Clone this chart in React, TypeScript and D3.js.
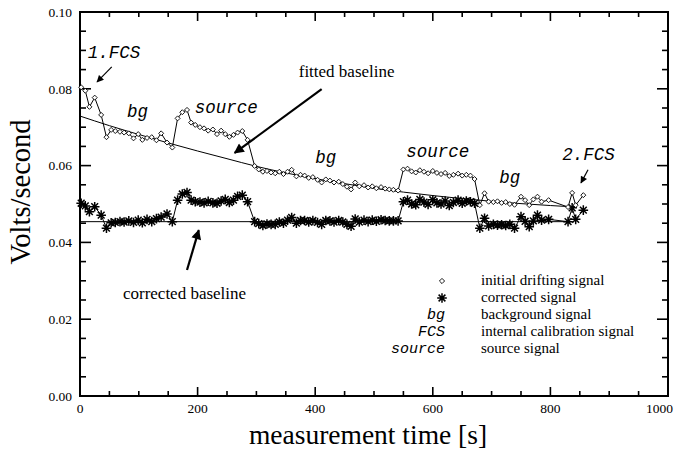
import React from "react";
import * as d3 from "d3";

// ---------- data ----------
const sampleTimes = [
  2, 9, 16, 25, 36, 45,
  53, 60, 68, 75, 83, 91, 99, 106, 114, 122, 130, 138, 148, 157,
  166, 174, 182, 189, 196, 204, 211, 218, 226, 233, 240, 247, 254, 261, 268, 276, 285,
  297, 304, 311, 318, 325, 332, 339, 346, 353, 360, 368, 375, 382, 389, 396, 404, 411, 418, 425, 432, 440, 447, 454, 461, 468, 475, 483, 490, 497, 504, 512, 519, 526, 533, 541,
  550, 557, 564, 571, 578, 585, 592, 600, 607, 614, 621, 628, 635, 643, 650, 657, 664, 671,
  680, 688, 695, 703, 710, 717, 724, 731, 739, 750, 757, 764, 771, 778, 785, 797,
  830, 837, 843, 856,
];

const driftingSignal = [
  0.0804, 0.0795, 0.0753, 0.0777, 0.0732, 0.0674,
  0.0693, 0.069, 0.0688, 0.0686, 0.0684, 0.0671, 0.0682, 0.0667, 0.0672, 0.0674, 0.0666, 0.0684, 0.066, 0.0647,
  0.0723, 0.0739, 0.0745, 0.0712, 0.0706, 0.07, 0.0697, 0.0691, 0.0694, 0.0682, 0.0691, 0.0682, 0.0675, 0.068, 0.0686, 0.069, 0.0667,
  0.0599, 0.059, 0.0584, 0.0586, 0.0582, 0.058, 0.0584, 0.0578, 0.0584, 0.0589, 0.0572, 0.0576, 0.0574, 0.0568, 0.057, 0.0563, 0.0556, 0.0564, 0.0561, 0.0556, 0.0558, 0.0552, 0.0545, 0.0538, 0.0556, 0.0546, 0.0549, 0.0543, 0.0546, 0.0541, 0.0544, 0.054, 0.0538, 0.0537, 0.0535,
  0.059, 0.0592, 0.0585, 0.0582, 0.0588, 0.0584, 0.058, 0.0586, 0.0581, 0.0578, 0.0581, 0.0573, 0.0576, 0.0579, 0.0574, 0.0576, 0.0574, 0.0565,
  0.0497, 0.0528, 0.0506, 0.0505, 0.0507, 0.0503, 0.0505, 0.05, 0.0498, 0.0519, 0.051, 0.0497, 0.0512, 0.0519, 0.0506, 0.051,
  0.0492, 0.0529, 0.0497, 0.0523,
];

const correctedSignal = [
  0.0502, 0.0495, 0.048, 0.0493, 0.0471, 0.0437,
  0.0451, 0.0452, 0.0454, 0.0453, 0.0456, 0.0452, 0.0458, 0.0451, 0.046, 0.0454, 0.0462, 0.0466, 0.0474, 0.0454,
  0.051, 0.0526, 0.053, 0.051, 0.0506, 0.0505, 0.0503, 0.0507, 0.0503, 0.0502, 0.0508, 0.0512, 0.0504, 0.051, 0.052, 0.0523, 0.0506,
  0.0454, 0.0449, 0.0444, 0.0448, 0.0447, 0.0447, 0.0453, 0.045, 0.0458, 0.0465, 0.045, 0.0457, 0.0457, 0.0453, 0.0457, 0.0452, 0.0447, 0.0457, 0.0456, 0.0453, 0.0457, 0.0453, 0.0447, 0.0442, 0.0461, 0.0453, 0.0458, 0.0454, 0.0458, 0.0455, 0.0459, 0.0457, 0.0456, 0.0456, 0.0456,
  0.0506, 0.051, 0.05, 0.0498, 0.0512, 0.0505, 0.0499, 0.0511, 0.0503, 0.05, 0.0508, 0.0496, 0.0504, 0.051, 0.0502, 0.0508, 0.0506, 0.0502,
  0.0437, 0.0463, 0.0443, 0.0447, 0.0445, 0.0446, 0.0444, 0.0447, 0.0437, 0.0467, 0.0455, 0.0441, 0.0456, 0.0471, 0.0458, 0.046,
  0.0454, 0.049, 0.046, 0.0484,
];

const fittedTimes = [0, 50, 100, 150, 200, 250, 300, 350, 400, 450, 500, 550, 600, 650, 700, 750, 800, 845];
const fittedValues = [0.0729, 0.0704, 0.0681, 0.0659, 0.0638, 0.0618, 0.0598, 0.0581, 0.0566, 0.0553, 0.0541, 0.0531, 0.0522, 0.0514, 0.0507, 0.0501, 0.0496, 0.0492];

const correctedBaselineTimes = [0, 835];
const correctedBaselineValue = 0.0454;

const yTickValues = [0, 0.02, 0.04, 0.06, 0.08, 0.1];
const xTickValues = [0, 200, 400, 600, 800, 1000];

const legendSymbols = ["diamond", "asterisk", "bg", "FCS", "source"];
const legendLabels = [
  "initial drifting signal",
  "corrected signal",
  "background signal",
  "internal calibration signal",
  "source signal",
];

// ---------- layout ----------
const W = 675;
const H = 450;
const M = { left: 80, right: 668, top: 12, bottom: 396 };
const SERIF = "'Liberation Serif', 'Times New Roman', serif";
const MONO = "'Liberation Mono', 'Courier New', monospace";

const x = d3.scaleLinear().domain([0, 1000]).range([M.left, M.right]);
const y = d3.scaleLinear().domain([0, 0.1]).range([M.bottom, M.top]);

function asteriskPath(cx: number, cy: number, r: number) {
  const d = r * Math.SQRT1_2;
  return `M${cx - r},${cy}L${cx + r},${cy}M${cx},${cy - r}L${cx},${cy + r}M${cx - d},${cy - d}L${cx + d},${cy + d}M${cx - d},${cy + d}L${cx + d},${cy - d}`;
}
function diamondPath(cx: number, cy: number, r: number) {
  return `M${cx},${cy - r}L${cx + r},${cy}L${cx},${cy + r}L${cx - r},${cy}Z`;
}

export default function App() {
  const drift = sampleTimes.map((t, i) => [t, driftingSignal[i]] as [number, number]);
  const corr = sampleTimes.map((t, i) => [t, correctedSignal[i]] as [number, number]);
  const fitted = fittedTimes.map((t, i) => [t, fittedValues[i]] as [number, number]);

  const line = d3
    .line<[number, number]>()
    .x((d) => x(d[0]))
    .y((d) => y(d[1]));
  const smooth = d3
    .line<[number, number]>()
    .x((d) => x(d[0]))
    .y((d) => y(d[1]))
    .curve(d3.curveMonotoneX);

  const minorX = d3.range(0, 1001, 50);
  const minorY = d3.range(0, 0.1001, 0.005);

  const ann = (t: number, v: number) => [x(t), y(v)];

  const arrows = [
    { from: [54, 0.0857], to: [29, 0.0818], w: 1.2, m: "ahs" },
    { from: [411, 0.0799], to: [263, 0.0633], w: 2.2, m: "ahb" },
    { from: [182, 0.0328], to: [202, 0.0432], w: 2.2, m: "ahb" },
    { from: [864, 0.0589], to: [852, 0.0555], w: 1.2, m: "ahs" },
  ];

  const monoLabels = [
    { t: 13, v: 0.088, s: "1.FCS" },
    { t: 80, v: 0.0727, s: "bg" },
    { t: 195, v: 0.0737, s: "source" },
    { t: 400, v: 0.0607, s: "bg" },
    { t: 555, v: 0.0622, s: "source" },
    { t: 713, v: 0.0555, s: "bg" },
    { t: 820, v: 0.0615, s: "2.FCS" },
  ];

  const legendY0 = 285;
  const legendDy = 17;
  const legendSymX = 443;
  const legendTextX = 481;

  return (
    <svg
      width={W}
      height={H}
      style={{ position: "absolute", left: 0, top: 0, background: "#fff" }}
    >
      <defs>
        <marker id="ahb" viewBox="0 0 10 10" refX="9" refY="5" markerWidth="13" markerHeight="10" markerUnits="userSpaceOnUse" orient="auto">
          <path d="M0,0L10,5L0,10z" fill="#000" />
        </marker>
        <marker id="ahs" viewBox="0 0 10 10" refX="9" refY="5" markerWidth="8" markerHeight="7" markerUnits="userSpaceOnUse" orient="auto">
          <path d="M0,0L10,5L0,10z" fill="#000" />
        </marker>
      </defs>
      <rect width={W} height={H} fill="#fff" />

      {/* ticks */}
      <g stroke="#000" strokeWidth={1.6}>
        {minorX.map((t) => {
          const major = t % 200 === 0;
          const len = major ? 9 : 5;
          return (
            <g key={"xt" + t}>
              <line x1={x(t)} x2={x(t)} y1={M.bottom} y2={M.bottom - len} />
              <line x1={x(t)} x2={x(t)} y1={M.top} y2={M.top + len} />
            </g>
          );
        })}
        {minorY.map((v, i) => {
          const major = i % 4 === 0;
          const len = major ? 11 : 6;
          return (
            <g key={"yt" + i}>
              <line x1={M.left} x2={M.left + len} y1={y(v)} y2={y(v)} />
              <line x1={M.right} x2={M.right - len} y1={y(v)} y2={y(v)} />
            </g>
          );
        })}
      </g>
      <rect
        x={M.left}
        y={M.top}
        width={M.right - M.left}
        height={M.bottom - M.top}
        fill="none"
        stroke="#000"
        strokeWidth={2}
      />

      {/* tick labels */}
      <g fontFamily={SERIF} fontSize={13.5} fill="#000">
        {yTickValues.map((v) => (
          <text key={"yl" + v} x={M.left - 8} y={y(v)} dy="0.35em" textAnchor="end">
            {d3.format(".2f")(v)}
          </text>
        ))}
        {xTickValues.map((t, i) => {
          const last = i === xTickValues.length - 1;
          return (
            <text
              key={"xl" + t}
              x={last ? W - 2 : x(t)}
              y={M.bottom + 17}
              textAnchor={last ? "end" : "middle"}
            >
              {t}
            </text>
          );
        })}
      </g>

      {/* axis titles */}
      <text
        x={x(500) - 6}
        y={444}
        textAnchor="middle"
        fontFamily={SERIF}
        fontSize={27.5}
      >
        measurement time [s]
      </text>
      <text
        transform={`translate(30,${(M.top + M.bottom) / 2 - 12}) rotate(-90)`}
        textAnchor="middle"
        fontFamily={SERIF}
        fontSize={28.5}
      >
        Volts/second
      </text>

      {/* baselines */}
      <path d={smooth(fitted) || ""} fill="none" stroke="#000" strokeWidth={1} />
      <line
        x1={x(correctedBaselineTimes[0])}
        x2={x(correctedBaselineTimes[1])}
        y1={y(correctedBaselineValue)}
        y2={y(correctedBaselineValue)}
        stroke="#000"
        strokeWidth={1}
      />

      {/* corrected signal */}
      <path d={line(corr) || ""} fill="none" stroke="#000" strokeWidth={1} />
      <g stroke="#000" strokeWidth={1.5}>
        {corr.map((d, i) => (
          <path key={"c" + i} d={asteriskPath(x(d[0]), y(d[1]), 4.8)} />
        ))}
      </g>

      {/* drifting signal */}
      <path d={line(drift) || ""} fill="none" stroke="#000" strokeWidth={1} />
      <g stroke="#000" strokeWidth={0.9} fill="#fff">
        {drift.map((d, i) => (
          <path key={"d" + i} d={diamondPath(x(d[0]), y(d[1]), 2.5)} />
        ))}
      </g>

      {/* annotations */}
      {arrows.map((a, i) => {
        const [x1, y1] = ann(a.from[0], a.from[1]);
        const [x2, y2] = ann(a.to[0], a.to[1]);
        return (
          <line
            key={"ar" + i}
            x1={x1}
            y1={y1}
            x2={x2}
            y2={y2}
            stroke="#000"
            strokeWidth={a.w}
            markerEnd={`url(#${a.m})`}
          />
        );
      })}
      <g fontFamily={MONO} fontStyle="italic" fontSize={17.5}>
        {monoLabels.map((l, i) => (
          <text key={"ml" + i} x={x(l.t)} y={y(l.v)}>
            {l.s}
          </text>
        ))}
      </g>
      <g fontFamily={SERIF} fontSize={17}>
        <text x={x(372)} y={y(0.0831)}>fitted baseline</text>
        <text x={x(73)} y={y(0.0253)}>corrected baseline</text>
      </g>

      {/* legend */}
      <g>
        {legendSymbols.map((s, i) => {
          const yy = legendY0 + i * legendDy;
          if (s === "diamond")
            return (
              <path key={"ls" + i} d={diamondPath(legendSymX - 1, yy - 4, 2.6)} fill="#fff" stroke="#000" strokeWidth={0.9} />
            );
          if (s === "asterisk")
            return <path key={"ls" + i} d={asteriskPath(legendSymX - 1, yy - 4, 4.8)} stroke="#000" strokeWidth={1.5} />;
          return (
            <text key={"ls" + i} x={legendSymX + 2} y={yy} textAnchor="end" fontFamily={MONO} fontStyle="italic" fontSize={15}>
              {s}
            </text>
          );
        })}
        {legendLabels.map((l, i) => (
          <text key={"ll" + i} x={legendTextX} y={legendY0 + i * legendDy} fontFamily={SERIF} fontSize={15}>
            {l}
          </text>
        ))}
      </g>
    </svg>
  );
}
